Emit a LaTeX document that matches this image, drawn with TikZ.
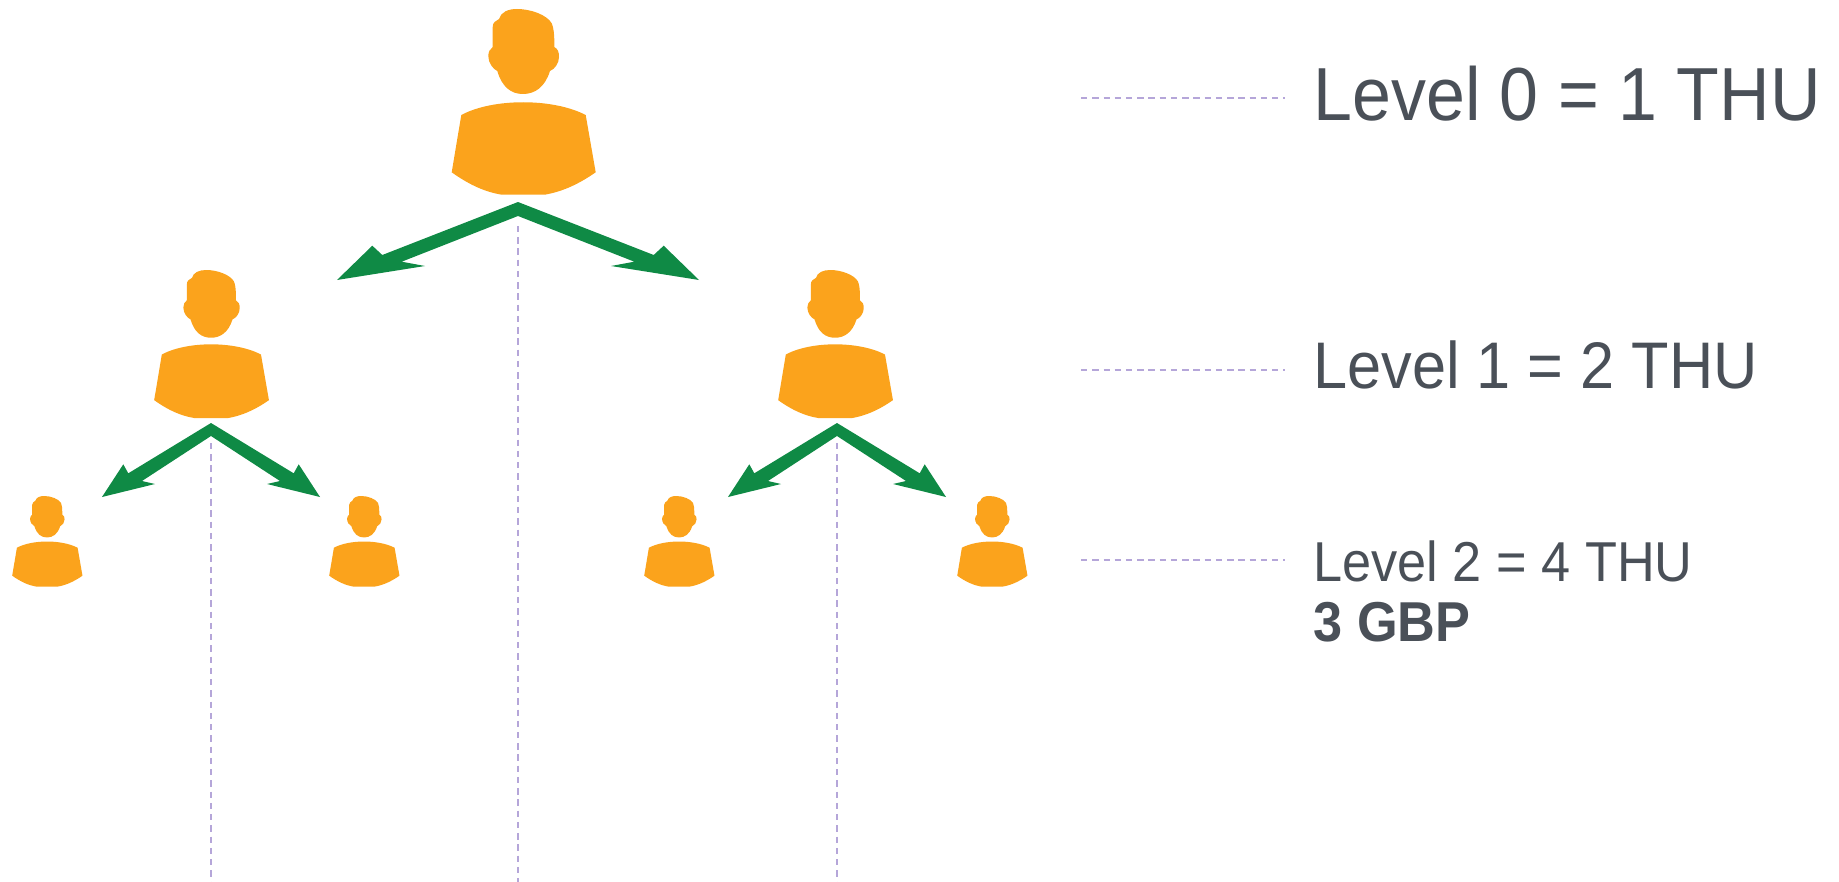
\documentclass[tikz,border=0pt]{standalone}
\usepackage{fontspec}
\setmainfont[FakeStretch=0.93]{Liberation Sans}
\usepackage{xcolor}
\usetikzlibrary{calc}
\definecolor{personorange}{HTML}{FBA31C}
\definecolor{forkgreen}{HTML}{0F8A45}
\definecolor{guidelilac}{HTML}{B5A6D9}
\definecolor{labelgrey}{HTML}{4A5058}
\tikzset{
  person/.pic={
    \fill[personorange] (31.3,32.7) -- (31.3,38) .. controls (35,40) and (36,43) .. (36,48)
      .. controls (36,54) and (32,60) .. (27,62) .. controls (22,78) and (12,85) .. (0,85)
      .. controls (-12,85) and (-21,78) .. (-25.7,62) .. controls (-30,60) and (-34.7,54) .. (-34.7,47)
      .. controls (-34.7,43) and (-33,40) .. (-30.3,38) -- (-30.3,18)
      .. controls (-30.3,13) and (-27,12) .. (-24,10) .. controls (-22,3) and (-15,0) .. (-6,0)
      .. controls (8,0) and (24,6) .. (28.7,14.3) .. controls (30.5,18) and (31.3,25) .. (31.3,32.7) -- cycle;
    \fill[personorange] (-71.3,163.3) .. controls (-52,177) and (-37,183) .. (-21.3,185.7)
      -- (21.7,185.7) .. controls (37,183) and (53,177) .. (72.7,163.3)
      -- (62.7,106) .. controls (30,89) and (-30,89) .. (-61.7,106) -- cycle;
  },
  bigfork/.pic={
    \fill[forkgreen] (0,0) -- (135.7,53) -- (145.7,43.7) -- (181,78) -- (93,64) -- (116.3,59.7)
      -- (0,14) -- (-116.3,59.7) -- (-93,64) -- (-181,78) -- (-145.7,43.7) -- (-135.7,53) -- cycle;
  },
  smallfork/.pic={
    \fill[forkgreen] (0,0) -- (82.7,50.3) -- (87.7,41.3) -- (109,74) -- (56,61) -- (69,58)
      -- (0,13) -- (-69,58) -- (-56,61) -- (-109,74) -- (-87.7,41.3) -- (-82.7,50.3) -- cycle;
  },
  guide/.style={guidelilac,line width=0.8pt,dash pattern=on 3.6pt off 2.8pt},
  levellabel/.style={text=labelgrey,inner xsep=16pt,inner ysep=0pt,anchor=base west},
}
\begin{document}
\begin{tikzpicture}[x=0.02cm,y=-0.02cm]
\useasboundingbox (0,0) rectangle (1839,882);

% people
\pic at (523,9) {person};
\foreach \px in {211,835} {
  \pic[scale=0.797] at (\px,270) {person};
}
\foreach \px in {47,364,679,992} {
  \pic[scale=0.488] at (\px,496) {person};
}

% fork points
\coordinate (forktop) at (518,202);
\coordinate (forkleft) at (211,423);
\coordinate (forkright) at (837,423);

% dashed lines down
\coordinate (endtop) at (518,882);
\coordinate (endleft) at (211,882);
\coordinate (endright) at (837,882);
\draw[guide] ($(forktop)+(0,24)$) -- (endtop);
\draw[guide] ($(forkleft)+(0,20)$) -- (endleft);
\draw[guide] ($(forkright)+(0,20)$) -- (endright);

\pic at (forktop) {bigfork};
\pic at (forkleft) {smallfork};
\pic at (forkright) {smallfork};

% levels
\node[levellabel,font=\fontsize{42.8}{50}\selectfont] (levelzero) at (1285,121) {Level 0 = 1 THU};
\node[levellabel,font=\fontsize{37.5}{45}\selectfont] (levelone) at (1285,388) {Level 1 = 2 THU};
\node[levellabel,font=\fontsize{32}{38}\selectfont] (leveltwo) at (1285,581) {Level 2 = 4 THU};
\node[levellabel,font=\fontsize{32}{38}\selectfont\bfseries] (gbp) at (1285,641) {3 GBP};

\coordinate (guidea) at (1081,98);
\coordinate (guideb) at (1081,370);
\coordinate (guidec) at (1081,560);
\draw[guide] (guidea) -- (guidea -| levelzero.west);
\draw[guide] (guideb) -- (guideb -| levelone.west);
\draw[guide] (guidec) -- (guidec -| leveltwo.west);
\end{tikzpicture}
\end{document}
